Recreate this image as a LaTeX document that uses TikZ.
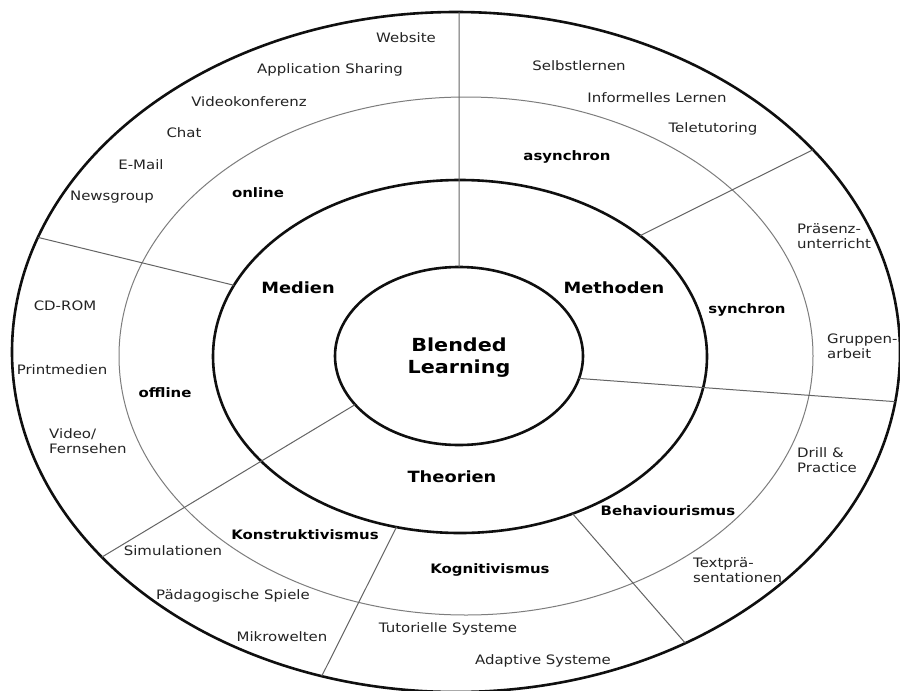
\documentclass[tikz,border=0pt]{standalone}
\usepackage{fontspec}
\setmainfont{DejaVu Sans}[FakeStretch=1.15]
\usepackage{tikz}
\definecolor{blRing}{RGB}{15,15,15}
\definecolor{blThin}{RGB}{125,125,125}
\definecolor{blLine}{RGB}{100,100,100}
\definecolor{blText}{RGB}{35,35,35}
\tikzset{
  ring/.style={draw=blRing, line width=2.6pt},
  thinring/.style={draw=blThin, line width=1pt},
  divider/.style={draw=blLine, line width=1pt},
  item/.style={text=blText, font=\fontsize{13}{15}\selectfont, inner sep=0pt},
  itemleft/.style={item, align=left, anchor=west},
  sublabel/.style={text=black, font=\fontsize{13}{15}\selectfont\bfseries, inner sep=0pt},
  headlabel/.style={text=black, font=\fontsize{15.5}{18}\selectfont\bfseries, inner sep=0pt},
}

\begin{document}
\begin{tikzpicture}[x=1pt,y=-1pt]
    \useasboundingbox (0,0) rectangle (900,691);
    \fill[white] (0,0) rectangle (900,691);

    % centres of the rings
    \coordinate (cOuter) at (456,352);
    \coordinate (cGray) at (466,356);
    \coordinate (cMid) at (460,356.5);
    \coordinate (cCore) at (459,356);

    % rings
    \draw[ring] (cOuter) ellipse [x radius=444, y radius=340];
    \draw[thinring] (cGray) ellipse [x radius=347, y radius=259];
    \draw[ring] (cMid) ellipse [x radius=247, y radius=176.5];
    \draw[ring] (cCore) ellipse [x radius=124, y radius=89];

    % end points of the dividers
    \path (cOuter) ++(270.4:444 and 340) coordinate (oTop);
    \path (cCore) ++(270:124 and 89) coordinate (kTop);
    \path (cOuter) ++(199.7:444 and 340) coordinate (oMedien);
    \path (cMid) ++(203.8:247 and 176.5) coordinate (mMedien);
    \path (cOuter) ++(323.5:444 and 340) coordinate (oSync);
    \path (cMid) ++(316.8:247 and 176.5) coordinate (mSync);
    \path (cOuter) ++(8.4:444 and 340) coordinate (oMeth);
    \path (cCore) ++(14.6:124 and 89) coordinate (kMeth);
    \path (cOuter) ++(58.9:444 and 340) coordinate (oBehav);
    \path (cMid) ++(62.9:247 and 176.5) coordinate (mBehav);
    \path (cOuter) ++(107.6:444 and 340) coordinate (oKogn);
    \path (cMid) ++(104.9:247 and 176.5) coordinate (mKogn);
    \path (cOuter) ++(142.9:444 and 340) coordinate (oTheo);
    \path (cCore) ++(146.9:124 and 89) coordinate (kTheo);

    % dividers
    \draw[divider] (oTop) -- (kTop);
    \draw[divider] (oMedien) -- (mMedien);
    \draw[divider] (oSync) -- (mSync);
    \draw[divider] (oMeth) -- (kMeth);
    \draw[divider] (oBehav) -- (mBehav);
    \draw[divider] (oKogn) -- (mKogn);
    \draw[divider] (oTheo) -- (kTheo);

    % centre
    \node[headlabel, font=\fontsize{18}{22}\selectfont\bfseries, align=center] (blended) at (459,358) {Blended\\Learning};

    % Medien
    \node[headlabel] (medien) at (298,288) {Medien};
    \node[sublabel] (online) at (258,193) {online};
    \node[sublabel] (offline) at (165,393) {offline};
    \node[item] (website) at (406,38) {Website};
    \node[item] (appSharing) at (330,70) {Application Sharing};
    \node[item] (videokonf) at (249,102) {Videokonferenz};
    \node[item] (chat) at (184,133) {Chat};
    \node[item] (email) at (141,165) {E-Mail};
    \node[item] (newsgroup) at (112,197) {Newsgroup};
    \node[item] (cdrom) at (65,306) {CD-ROM};
    \node[item] (printmedien) at (62,370) {Printmedien};
    \node[itemleft] (video) at (49,441) {Video/\\Fernsehen};

    % Methoden
    \node[headlabel] (methoden) at (614,288) {Methoden};
    \node[sublabel] (asynchron) at (567,157) {asynchron};
    \node[sublabel] (synchron) at (747,310) {synchron};
    \node[item] (selbstlernen) at (579,66) {Selbstlernen};
    \node[item] (informell) at (657,98) {Informelles Lernen};
    \node[item] (teletutoring) at (713,129) {Teletutoring};
    \node[itemleft] (praesenz) at (797,236) {Präsenz-\\unterricht};
    \node[itemleft] (gruppen) at (827,346) {Gruppen-\\arbeit};

    % Theorien
    \node[headlabel] (theorien) at (452,477) {Theorien};
    \node[sublabel] (behav) at (668,511) {Behaviourismus};
    \node[sublabel] (kogn) at (490,570) {Kognitivismus};
    \node[sublabel] (konstr) at (305,535) {Konstruktivismus};
    \node[itemleft] (drill) at (797,460) {Drill \&\\Practice};
    \node[itemleft] (textpraes) at (693,570) {Textprä-\\sentationen};
    \node[item] (adaptive) at (543,661) {Adaptive Systeme};
    \node[item] (tutorielle) at (448,629) {Tutorielle Systeme};
    \node[item] (mikrowelten) at (282,637) {Mikrowelten};
    \node[item] (spiele) at (233,596) {Pädagogische Spiele};
    \node[item] (simulationen) at (173,551) {Simulationen};
\end{tikzpicture}
\end{document}
